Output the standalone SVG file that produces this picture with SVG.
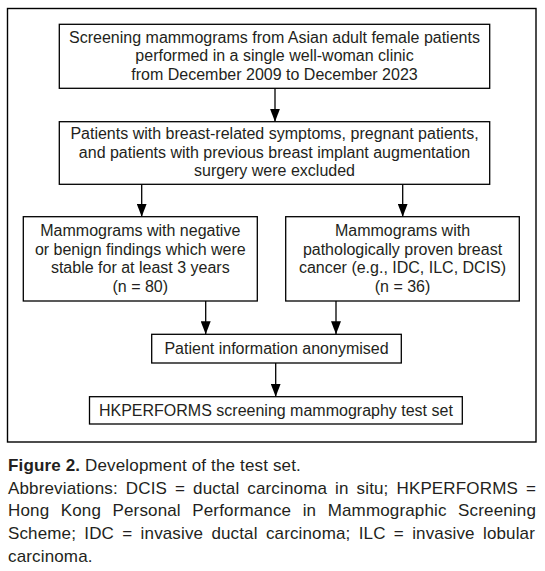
<svg xmlns="http://www.w3.org/2000/svg" width="545" height="571" viewBox="0 0 545 571">
<style>
.bg{fill:#ffffff}
.frame{fill:none;stroke:#000;stroke-width:1.4}
.box{fill:#fff;stroke:#000;stroke-width:1.3}
.t{font-family:"Liberation Sans",Arial,Helvetica,sans-serif;font-size:16px;fill:#231f20;text-anchor:middle}
.c{font-family:"Liberation Sans",Arial,Helvetica,sans-serif;font-size:17px;letter-spacing:0.15px;fill:#231f20}
.b{font-weight:bold}
.ln{fill:none;stroke:#000;stroke-width:1.3}
</style>
<defs>
<marker id="ah" markerUnits="userSpaceOnUse" markerWidth="13" markerHeight="10" viewBox="0 0 13 10" refX="13" refY="5" orient="auto">
<path d="M0,0 L13,5 L0,10 z" fill="#000"/>
</marker>
</defs>
<rect class="bg" x="0" y="0" width="545" height="571"/>
<rect class="frame" x="7.5" y="8.5" width="528.5" height="433.5"/>

<g id="connectors">
<line class="ln" x1="275" y1="88.3" x2="275" y2="121.7" marker-end="url(#ah)"/>
<line class="ln" x1="141.7" y1="184.3" x2="141.7" y2="216.7" marker-end="url(#ah)"/>
<line class="ln" x1="402.7" y1="184.3" x2="402.7" y2="216.7" marker-end="url(#ah)"/>
<line class="ln" x1="205.7" y1="301" x2="205.7" y2="334.3" marker-end="url(#ah)"/>
<line class="ln" x1="336" y1="301" x2="336" y2="334.3" marker-end="url(#ah)"/>
<line class="ln" x1="275.7" y1="363" x2="275.7" y2="396.7" marker-end="url(#ah)"/>
</g>

<g id="n1">
<rect class="box" x="59.3" y="24.3" width="430.4" height="64"/>
<text class="t" x="274.5" y="42.7">Screening mammograms from Asian adult female patients</text>
<text class="t" x="274.5" y="61.4">performed in a single well-woman clinic</text>
<text class="t" x="274.5" y="80.1">from December 2009 to December 2023</text>
</g>

<g id="n2">
<rect class="box" x="59.3" y="121.7" width="430.4" height="62.6"/>
<text class="t" x="274.5" y="139.3">Patients with breast-related symptoms, pregnant patients,</text>
<text class="t" x="274.5" y="157.8">and patients with previous breast implant augmentation</text>
<text class="t" x="274.5" y="176.2">surgery were excluded</text>
</g>

<g id="n3">
<rect class="box" x="23.3" y="216.7" width="234" height="84.3"/>
<text class="t" x="140.3" y="236">Mammograms with negative</text>
<text class="t" x="140.3" y="254.7">or benign findings which were</text>
<text class="t" x="140.3" y="273.4">stable for at least 3 years</text>
<text class="t" x="140.3" y="292.1">(n = 80)</text>
</g>

<g id="n4">
<rect class="box" x="285.7" y="216.7" width="233.6" height="84.3"/>
<text class="t" x="402.5" y="236">Mammograms with</text>
<text class="t" x="402.5" y="254.7">pathologically proven breast</text>
<text class="t" x="402.5" y="273.4">cancer (e.g., IDC, ILC, DCIS)</text>
<text class="t" x="402.5" y="292.1">(n = 36)</text>
</g>

<g id="n5">
<rect class="box" x="151.7" y="334.3" width="249.6" height="28.7"/>
<text class="t" x="276.5" y="353.8">Patient information anonymised</text>
</g>

<g id="n6">
<rect class="box" x="89.5" y="396.7" width="372.8" height="27.3"/>
<text class="t" x="275.9" y="415.5">HKPERFORMS screening mammography test set</text>
</g>

<g id="caption">
<text class="c" x="8" y="471"><tspan class="b">Figure 2.</tspan> Development of the test set.</text>
<text class="c" x="8" y="493.5" word-spacing="3.1" textLength="528" lengthAdjust="spacing">Abbreviations: DCIS = ductal carcinoma in situ; HKPERFORMS =</text>
<text class="c" x="8" y="516.3" word-spacing="6.6" textLength="528" lengthAdjust="spacing">Hong Kong Personal Performance in Mammographic Screening</text>
<text class="c" x="8" y="539.1" word-spacing="3.4" textLength="527" lengthAdjust="spacing">Scheme; IDC = invasive ductal carcinoma; ILC = invasive lobular</text>
<text class="c" x="8" y="562">carcinoma.</text>
</g>
</svg>
